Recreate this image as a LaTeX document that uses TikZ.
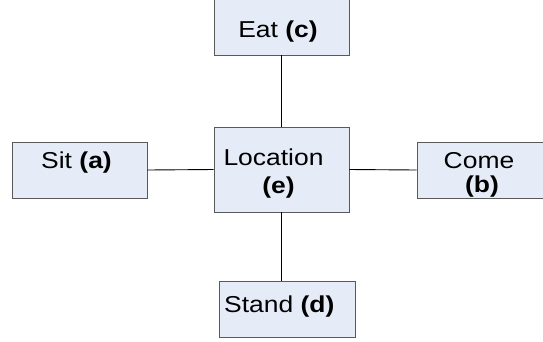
\documentclass[tikz,border=0pt]{standalone}
\usepackage{fontspec}
\setmainfont{Liberation Sans}[FakeStretch=1.15]
\begin{document}
\begin{tikzpicture}[x=1pt,y=-1pt,
  box/.style={draw=black!65,fill=boxfill,line width=0.9pt,inner sep=0pt},
  lbl/.style={inner sep=0pt,font=\fontsize{23}{26}\selectfont},
  link/.style={draw=black,line width=0.9pt}]
\definecolor{boxfill}{HTML}{E6ECF7}
\useasboundingbox (0,0) rectangle (543,341);
% boxes
\node[box,minimum width=135pt,minimum height=62pt] (eat) at (281.5,24) {};
\node[box,minimum width=135pt,minimum height=56pt] (sit) at (79.5,170) {};
\node[box,minimum width=135pt,minimum height=85pt] (loc) at (281.5,169.5) {};
\node[box,minimum width=150pt,minimum height=56pt] (come) at (492,170) {};
\node[box,minimum width=136pt,minimum height=56pt] (stand) at (287,309) {};
% connectors
\draw[link] (eat.south) -- (loc.north);
\draw[link] (sit.east) -- (loc.west);
\draw[link] (loc.east) -- (come.west);
\draw[link] (loc.south) -- (loc.south |- stand.north);
% labels
\node[lbl,anchor=base] (teat) at (278,37) {Eat \textbf{(c)}};
\node[lbl,anchor=base] (tsit) at (76.5,168) {Sit \textbf{(a)}};
\node[lbl,anchor=base] (tloc) at (273.5,165) {Location};
\node[lbl,anchor=base] (tlocb) at (278.5,193) {\textbf{(e)}};
\node[lbl,anchor=base] (tcome) at (479,168) {Come};
\node[lbl,anchor=base] (tcomeb) at (482,192) {\textbf{(b)}};
\node[lbl,anchor=base west] (tstand) at (224,312) {Stand \textbf{(d)}};
\end{tikzpicture}
\end{document}
